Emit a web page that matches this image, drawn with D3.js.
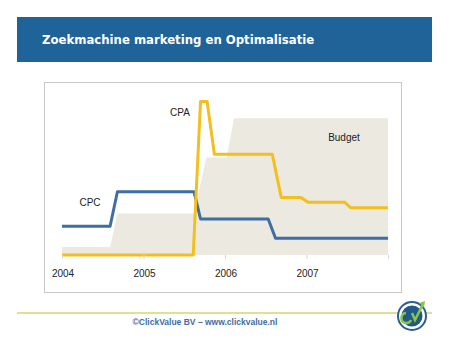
<!DOCTYPE html>
<html>
<head>
<meta charset="utf-8">
<script src="https://cdn.jsdelivr.net/npm/d3@7"></script>
<style>
  body { margin: 0; background: #fff; }
  svg { display: block; }
</style>
</head>
<body>
<svg id="svg" width="450" height="347"></svg>
<script>
// tick labels
const yearLabels = [2004, 2005, 2006, 2007];
const tickYears = [2004, 2005, 2006, 2007, 2008];

// budget (area, relative units)
const budgetT = [2004.0, 2004.59, 2004.68, 2005.62, 2005.77, 2006.02, 2006.11, 2008.0];
const budgetV = [5, 5, 26, 26, 61, 61, 85.5, 85.5];

// CPC line
const cpcT = [2004.0, 2004.59, 2004.68, 2005.62, 2005.7, 2006.53, 2006.62, 2008.0];
const cpcV = [18, 18, 39.5, 39.5, 22.5, 22.5, 10.5, 10.5];

// CPA line
const cpaT = [2004.0, 2005.61, 2005.7, 2005.78, 2005.87, 2006.58, 2006.69, 2006.93, 2007.02, 2007.47, 2007.54, 2008.0];
const cpaV = [0, 0, 96, 96, 63, 63, 36, 36, 33, 33, 29.5, 29.5];

const svg = d3.select('#svg');

// header band
svg.append('rect').attr('x', 17).attr('y', 17).attr('width', 415).attr('height', 45).attr('fill', '#1f6399');
svg.append('text').attr('x', 42).attr('y', 44)
  .attr('font-family', 'DejaVu Sans').attr('font-stretch', 'condensed').attr('font-weight', 'bold')
  .attr('font-size', 13).attr('fill', '#fff').text('Zoekmachine marketing en Optimalisatie');

// chart panel
svg.append('rect').attr('x', 44.5).attr('y', 82.5).attr('width', 357).attr('height', 210)
  .attr('fill', '#fff').attr('stroke', '#c8c8c8');

const x = d3.scaleLinear().domain([2004, 2008]).range([62, 388]);
const y = d3.scaleLinear().domain([0, 100]).range([255, 95]);

const g = svg.append('g');

const area = d3.area().x(d => x(d[0])).y0(y(0)).y1(d => y(d[1]));
g.append('path').datum(budgetT.map((t, i) => [t, budgetV[i]]))
  .attr('d', area).attr('fill', '#ece9e1');

const line = d3.line().x(d => x(d[0])).y(d => y(d[1]));
g.append('path').datum(cpcT.map((t, i) => [t, cpcV[i]]))
  .attr('d', line).attr('fill', 'none').attr('stroke', '#3e6ea3').attr('stroke-width', 3)
  .attr('stroke-linejoin', 'round');
g.append('path').datum(cpaT.map((t, i) => [t, cpaV[i]]))
  .attr('d', line).attr('fill', 'none').attr('stroke', '#f4bf1c').attr('stroke-width', 3)
  .attr('stroke-linejoin', 'round');

// x axis
const axis = d3.axisBottom(x).tickValues(tickYears).tickSize(4).tickFormat('');
const ax = svg.append('g').attr('transform', `translate(0,${y(0)})`).call(axis);
ax.select('.domain').remove();
ax.selectAll('line').attr('stroke', '#d8d8d8');
svg.selectAll('.ylab').data(yearLabels).enter().append('text')
  .attr('x', d => x(d) + 1).attr('y', 277)
  .attr('text-anchor', 'middle').attr('font-family', 'Liberation Sans').attr('font-size', 10)
  .attr('fill', '#222').text(d => d);

// series labels
const lab = (tx, ty, s) => svg.append('text').attr('x', tx).attr('y', ty).attr('text-anchor', 'middle')
  .attr('font-family', 'Liberation Sans').attr('font-size', 10).attr('fill', '#222').text(s);
lab(180, 116, 'CPA');
lab(90, 206, 'CPC');
lab(344, 141, 'Budget');

// footer
svg.append('line').attr('x1', 17).attr('x2', 432).attr('y1', 313).attr('y2', 313)
  .attr('stroke', '#d6d66e').attr('stroke-width', 1.5);
svg.append('text').attr('x', 205).attr('y', 325).attr('text-anchor', 'middle')
  .attr('font-family', 'Liberation Sans').attr('font-weight', 'bold').attr('font-size', 8.5)
  .attr('fill', '#3f6da6').text('©ClickValue BV – www.clickvalue.nl');

// logo
const logo = svg.append('g').attr('transform', 'translate(412,316)');
logo.append('circle').attr('r', 14).attr('fill', '#fff').attr('stroke', '#2a5e8c').attr('stroke-width', 2);
logo.append('circle').attr('r', 10.5).attr('fill', '#1f5a8a');
logo.append('path').attr('d', 'M-6,-3 A5,5 0 1 0 -1,4').attr('fill', 'none').attr('stroke', '#8cc63f').attr('stroke-width', 2.5);
logo.append('path').attr('d', 'M0,-3 L3,4 L11,-12').attr('fill', 'none').attr('stroke', '#8cc63f').attr('stroke-width', 2.5);
logo.append('path').attr('d', 'M7,-13 L13,-15 L12,-9 Z').attr('fill', '#8cc63f');
</script>
</body>
</html>
